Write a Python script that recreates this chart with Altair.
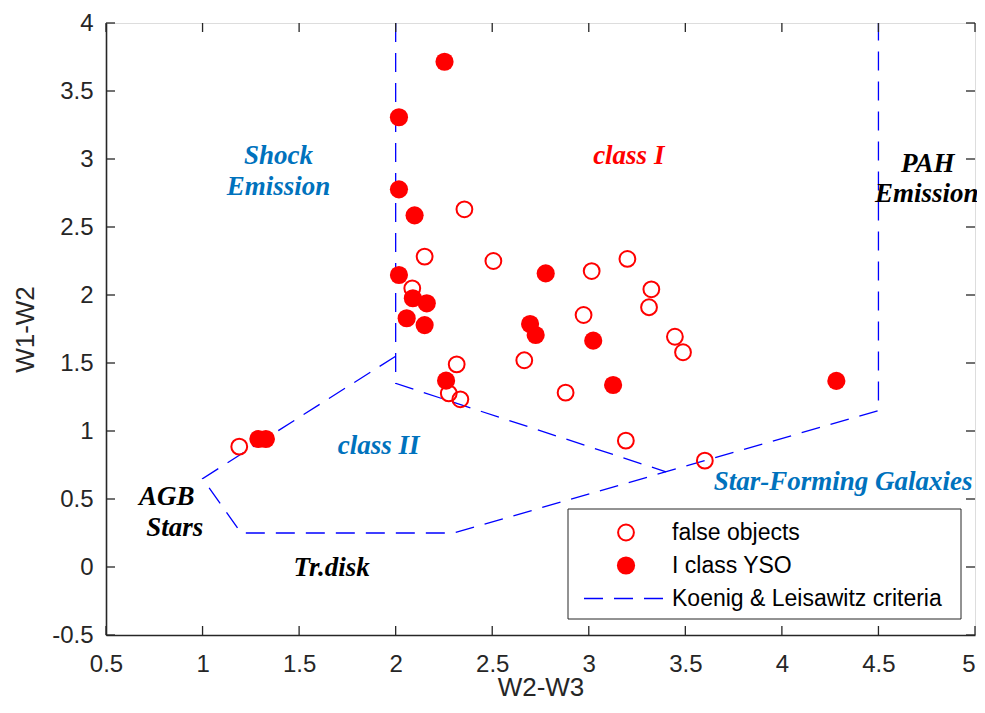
import altair as alt
import pandas as pd

# ---- data ----
false_x = [2.356, 2.150, 2.506, 2.086, 3.015, 3.200, 3.324, 3.312, 2.973, 3.446,
           3.488, 2.666, 2.880, 3.192, 3.601, 2.316, 2.275, 2.335, 1.190]
false_y = [2.630, 2.282, 2.250, 2.049, 2.176, 2.265, 2.042, 1.910, 1.853, 1.693,
           1.579, 1.520, 1.282, 0.929, 0.782, 1.490, 1.277, 1.233, 0.885]

yso_x = [2.253, 2.017, 2.017, 2.098, 2.017, 2.089, 2.161, 2.057, 2.150, 2.777,
         2.696, 2.725, 3.023, 3.126, 4.282, 2.261, 1.289, 1.328]
yso_y = [3.715, 3.307, 2.777, 2.586, 2.147, 1.976, 1.939, 1.829, 1.779, 2.159,
         1.787, 1.706, 1.664, 1.338, 1.368, 1.370, 0.941, 0.941]

# Koenig & Leisawitz criteria boundaries (two dashed paths)
crit_a_x = [2.0, 2.0, 3.4]
crit_a_y = [4.0, 1.35, 0.70]
crit_b_x = [2.0, 1.0, 1.2, 2.3, 4.5, 4.5]
crit_b_y = [1.55, 0.65, 0.25, 0.25, 1.15, 4.0]

# region labels
region_text = ["Shock", "Emission", "class I", "PAH", "Emission", "class II",
               "AGB", "Stars", "Tr.disk", "Star-Forming Galaxies"]
region_x = [1.393, 1.393, 3.207, 4.755, 4.750, 1.912, 0.815, 0.856, 1.668, 4.317]
region_y = [3.024, 2.796, 3.024, 2.962, 2.739, 0.891, 0.512, 0.284, -0.005, 0.625]
region_color = ["#0072BD", "#0072BD", "#FF0000", "#000000", "#000000", "#0072BD",
                "#000000", "#000000", "#000000", "#0072BD"]

x_ticks = [0.5, 1, 1.5, 2, 2.5, 3, 3.5, 4, 4.5, 5]
y_ticks = [-0.5, 0, 0.5, 1, 1.5, 2, 2.5, 3, 3.5, 4]

legend_labels = ["false objects", "I class YSO", "Koenig & Leisawitz criteria"]

# ---- tables ----
W, H = 869, 612
PAD_L, PAD_T, PAD_R, PAD_B = 98, 15, 2, 63
AX = "#262626"
SANS = "Liberation Sans"
SERIF = "Liberation Serif"

df_false = pd.DataFrame({"x": false_x, "y": false_y})
df_yso = pd.DataFrame({"x": yso_x, "y": yso_y})
crit_rows = []
for name, xs, ys in (("a", crit_a_x, crit_a_y), ("b", crit_b_x, crit_b_y)):
    for i, (xv, yv) in enumerate(zip(xs, ys)):
        crit_rows.append({"path": name, "o": i, "x": xv, "y": yv})
df_crit = pd.DataFrame(crit_rows)
df_text = pd.DataFrame({"t": region_text, "x": region_x, "y": region_y, "c": region_color})
df_xt = pd.DataFrame({"t": x_ticks})
df_yt = pd.DataFrame({"t": y_ticks})
df_one = pd.DataFrame({"d": [0]})

xscale = alt.Scale(domain=[0.5, 5], nice=False, zero=False)
yscale = alt.Scale(domain=[-0.5, 4], nice=False, zero=False)

x_axis = alt.Axis(values=x_ticks, ticks=False, tickSize=0, grid=False, domainColor=AX,
                  domainWidth=1.6, labelFont=SANS, labelFontSize=24, labelColor=AX,
                  labelPadding=17, labelExpr="'' + datum.value",
                  labelAlign={"expr": "datum.value == 5 ? 'right' : 'center'"},
                  title="W2-W3", titleFont=SANS, titleFontSize=26,
                  titleFontWeight="normal", titleColor=AX, titleX=W / 2,
                  titleY=PAD_B - 3, titleBaseline="alphabetic", titleAnchor="middle",
                  labelFlush=False)
y_axis = alt.Axis(values=y_ticks, ticks=False, tickSize=0, grid=False, domainColor=AX,
                  domainWidth=1.6, labelFont=SANS, labelFontSize=24, labelColor=AX,
                  labelPadding=13, labelExpr="'' + datum.value",
                  title="W1-W2", titleFont=SANS, titleFontSize=26,
                  titleFontWeight="normal", titleColor=AX, titleX=-73, titleY=H / 2,
                  titleBaseline="alphabetic", titleAngle=-90, titleAlign="center",
                  labelFlush=False)

base_axes = alt.Chart(df_false).mark_point(opacity=0).encode(
    x=alt.X("x:Q", scale=xscale, axis=x_axis),
    y=alt.Y("y:Q", scale=yscale, axis=y_axis),
)

crit = alt.Chart(df_crit).mark_line(color="#0000FF", strokeWidth=1.3,
                                     strokeDash=[19, 11]).encode(
    x="x:Q", y="y:Q", detail="path:N", order="o:Q")

open_pts = alt.Chart(df_false).mark_point(shape="circle", filled=False, color="#FF0000",
                                          strokeWidth=2, size=250, opacity=1).encode(
    x="x:Q", y="y:Q")
fill_pts = alt.Chart(df_yso).mark_point(shape="circle", filled=True, color="#FF0000",
                                        size=330, opacity=1, strokeWidth=0).encode(
    x="x:Q", y="y:Q")

labels = alt.Chart(df_text).mark_text(font=SERIF, fontSize=27, fontStyle="italic",
                                      fontWeight="bold", baseline="middle",
                                      align="center").encode(
    x="x:Q", y="y:Q", text="t:N", color=alt.Color("c:N", scale=None))

# inward ticks (MATLAB style box)
tick_b = alt.Chart(df_xt).mark_rule(color=AX, strokeWidth=1.3).encode(
    x="t:Q", y=alt.value(H), y2=alt.value(H - 9))
tick_t = alt.Chart(df_xt).mark_rule(color=AX, strokeWidth=1.3).encode(
    x="t:Q", y=alt.value(0), y2=alt.value(9))
tick_l = alt.Chart(df_yt).mark_rule(color=AX, strokeWidth=1.3).encode(
    y="t:Q", x=alt.value(0), x2=alt.value(9))
tick_r = alt.Chart(df_yt).mark_rule(color=AX, strokeWidth=1.3).encode(
    y="t:Q", x=alt.value(W), x2=alt.value(W - 9))

# manual legend
lx0, lx1, ly0, ly1 = 462, 855, 486, 596
rows = [509.5, 542.5, 575.5]
leg_box = alt.Chart(df_one).mark_rect(fill="white", stroke=AX, strokeWidth=1).encode(
    x=alt.value(lx0), x2=alt.value(lx1), y=alt.value(ly0), y2=alt.value(ly1))
leg_open = alt.Chart(df_one).mark_point(shape="circle", filled=False, color="#FF0000",
                                        strokeWidth=2, size=250, opacity=1).encode(
    x=alt.value(520), y=alt.value(rows[0]))
leg_fill = alt.Chart(df_one).mark_point(shape="circle", filled=True, color="#FF0000",
                                        size=330, opacity=1, strokeWidth=0).encode(
    x=alt.value(520), y=alt.value(rows[1]))
leg_line = alt.Chart(df_one).mark_rule(color="#0000FF", strokeWidth=1.3,
                                       strokeDash=[19, 11]).encode(
    x=alt.value(478), x2=alt.value(559), y=alt.value(rows[2]))
df_leg = pd.DataFrame({"t": legend_labels, "r": rows})
leg_text = alt.Chart(df_leg).mark_text(font=SANS, fontSize=23, align="left",
                                       baseline="middle", color="#000000").encode(
    x=alt.value(566), y=alt.Y("r:Q", scale=None), text="t:N")

chart = alt.layer(
    base_axes, crit, labels, open_pts, fill_pts,
    tick_b, tick_t, tick_l, tick_r,
    leg_box, leg_open, leg_fill, leg_line, leg_text,
).properties(
    width=W, height=H,
    autosize=alt.AutoSizeParams(type="none"),
    padding={"left": PAD_L, "top": PAD_T, "right": PAD_R, "bottom": PAD_B},
).configure_view(stroke=AX, strokeWidth=1.2).configure(background="white")

chart.save("out.html", embed_options={"renderer": "svg", "actions": False})
